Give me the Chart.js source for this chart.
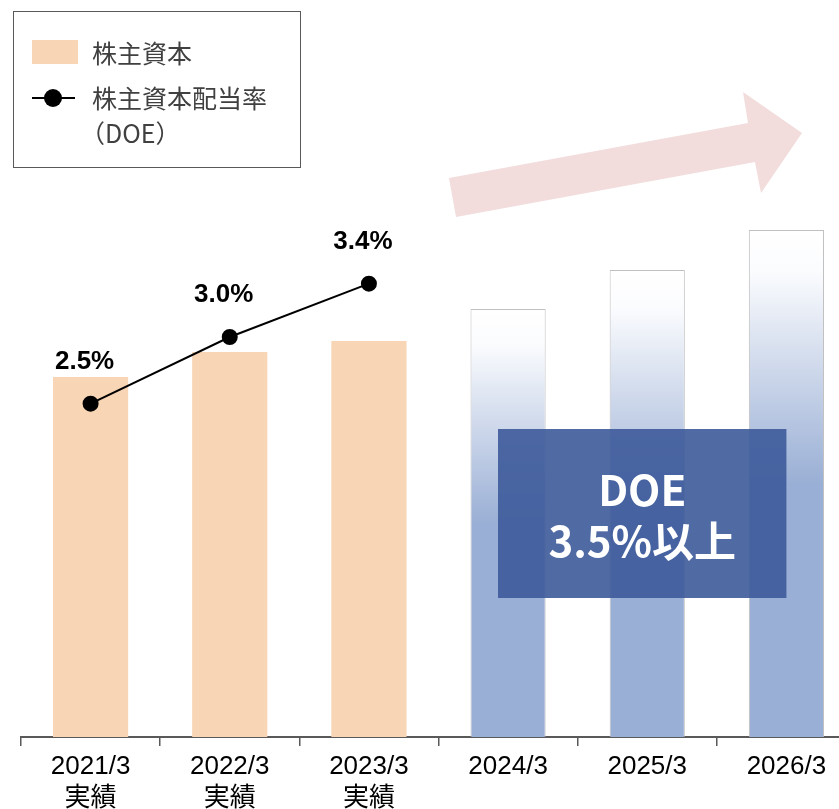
<!DOCTYPE html>
<html lang="ja">
<head>
<meta charset="utf-8">
<script src="https://cdn.jsdelivr.net/npm/chart.js@4.4.1/dist/chart.umd.min.js"></script>
<style>
    html, body { margin: 0; padding: 0; background: #fff; overflow: hidden; }
    #wrap { width: 839px; height: 809px; overflow: hidden; position: relative; }
    canvas { display: block; }
</style>
</head>
<body>
<div id="wrap"><canvas id="doeChart" width="865" height="809"></canvas></div>
<script>
// datos del gráfico
const categories = [['2021/3', '実績'], ['2022/3', '実績'], ['2023/3', '実績'], '2024/3', '2025/3', '2026/3'];
const equityValues = [36.0, 38.5, 39.6, 42.8, 46.7, 50.7];   // 株主資本 (escala relativa)
const doeValues = [2.5, 3.0, 3.4, null, null, null];          // DOE (%)
const actualCount = 3;                                        // 実績 = primeras 3 barras
const targetText = ['DOE', '3.5%以上'];

const PEACH = '#f7d5b5';
const BLUE = '#9aafd5';
const JP_FONT = '"Liberation Sans", Arial, "Noto Sans CJK JP", sans-serif';

// barras previstas: degradado blanco -> azul en cada barra
function barColor(ctx) {
    if (ctx.type !== 'data' || ctx.dataIndex < actualCount) return PEACH;
    const chart = ctx.chart;
    const y = chart.scales.y;
    if (!chart.chartArea || !y) return BLUE;
    const top = y.getPixelForValue(ctx.raw);
    const base = y.getPixelForValue(0);
    const g = chart.ctx.createLinearGradient(0, top, 0, base);
    g.addColorStop(0, '#ffffff');
    g.addColorStop(0.08, '#fbfcfe');
    g.addColorStop(0.5, BLUE);
    g.addColorStop(1, BLUE);
    return g;
}

// etiquetas de porcentaje sobre los puntos
const pointLabels = {
    id: 'pointLabels',
    afterDatasetsDraw(chart) {
        const meta = chart.getDatasetMeta(1);
        const c = chart.ctx;
        c.save();
        c.font = 'bold 26px "Liberation Sans", Arial, sans-serif';
        c.fillStyle = '#000';
        c.textAlign = 'center';
        c.textBaseline = 'middle';
        meta.data.forEach((pt, i) => {
            if (doeValues[i] == null) return;
            c.fillText(doeValues[i].toFixed(1) + '%', pt.x - 6, pt.y - 42);
        });
        c.restore();
    }
};

// flecha + recuadro DOE objetivo + leyenda
const overlay = {
    id: 'overlay',
    afterDraw(chart) {
        const c = chart.ctx;
        const x = chart.scales.x;
        c.save();
        // flecha rosa
        c.fillStyle = '#f2dcdc';
        c.beginPath();
        c.moveTo(449, 178);
        c.lineTo(748, 123);
        c.lineTo(743, 92);
        c.lineTo(802, 133);
        c.lineTo(761, 193);
        c.lineTo(755, 162);
        c.lineTo(456, 217);
        c.closePath();
        c.fill();

        // recuadro azul
        const right = x.getPixelForValue(5);
        c.fillStyle = 'rgba(61, 90, 154, 0.9)';
        c.fillRect(498, 429, right - 498, 169);
        c.fillStyle = '#fff';
        c.font = 'bold 42px "Noto Sans CJK JP", "Noto Sans", sans-serif';
        c.textAlign = 'center';
        c.textBaseline = 'middle';
        const cx = (498 + right) / 2;
        c.fillText(targetText[0], cx, 490);
        c.fillText(targetText[1], cx, 541);

        // leyenda
        c.strokeStyle = '#595959';
        c.lineWidth = 1;
        c.fillStyle = '#fff';
        c.fillRect(13.5, 11.5, 287, 156);
        c.strokeRect(13.5, 11.5, 287, 156);
        c.fillStyle = PEACH;
        c.fillRect(32, 40, 46, 24);
        c.strokeStyle = '#000';
        c.lineWidth = 2;
        c.beginPath();
        c.moveTo(32, 98);
        c.lineTo(75, 98);
        c.stroke();
        c.fillStyle = '#000';
        c.beginPath();
        c.arc(53, 98, 9, 0, Math.PI * 2);
        c.fill();
        c.fillStyle = '#404040';
        c.font = '25px "Noto Sans CJK JP", sans-serif';
        c.textAlign = 'left';
        c.fillText('株主資本', 92, 53);
        c.fillText('株主資本配当率', 92, 98);
        c.fillText('（DOE）', 80, 133);
        c.restore();
    }
};

new Chart(document.getElementById('doeChart'), {
    data: {
        labels: categories,
        datasets: [
            {
                type: 'bar',
                label: '株主資本',
                data: equityValues,
                backgroundColor: barColor,
                borderColor: (ctx) => ctx.dataIndex < actualCount ? PEACH : 'rgba(185,185,185,0.9)',
                borderWidth: (ctx) => ctx.dataIndex < actualCount ? 0 : { top: 1, left: 1, right: 1, bottom: 0 },
                borderSkipped: 'bottom',
                categoryPercentage: 1,
                barPercentage: 0.54,
                yAxisID: 'y',
                order: 2,
            },
            {
                type: 'line',
                label: '株主資本配当率（DOE）',
                data: doeValues,
                borderColor: '#000',
                borderWidth: 2,
                pointBackgroundColor: '#000',
                pointBorderColor: '#000',
                pointRadius: 7,
                tension: 0,
                yAxisID: 'y1',
                order: 1,
            }
        ]
    },
    options: {
        responsive: false,
        animation: false,
        layout: { padding: { left: 21, right: 5, top: 37, bottom: 0 } },
        plugins: {
            legend: { display: false },
            tooltip: { enabled: false }
        },
        scales: {
            x: {
                offset: true,
                grid: {
                    offset: true,
                    drawOnChartArea: false,
                    color: '#595959',
                    tickLength: 9,
                    lineWidth: 1.5,
                },
                border: { color: '#595959', width: 2 },
                ticks: {
                    color: '#000',
                    padding: 5,
                    maxRotation: 0,
                    autoSkip: false,
                    font: { family: JP_FONT, size: 26, lineHeight: 1.23 },
                },
                afterFit: (s) => { s.height = 72; }
            },
            y: { display: false, min: 0, max: 70 },
            y1: { display: false, min: 0, max: 5.25 }
        }
    },
    plugins: [pointLabels, overlay]
});
</script>
</body>
</html>
